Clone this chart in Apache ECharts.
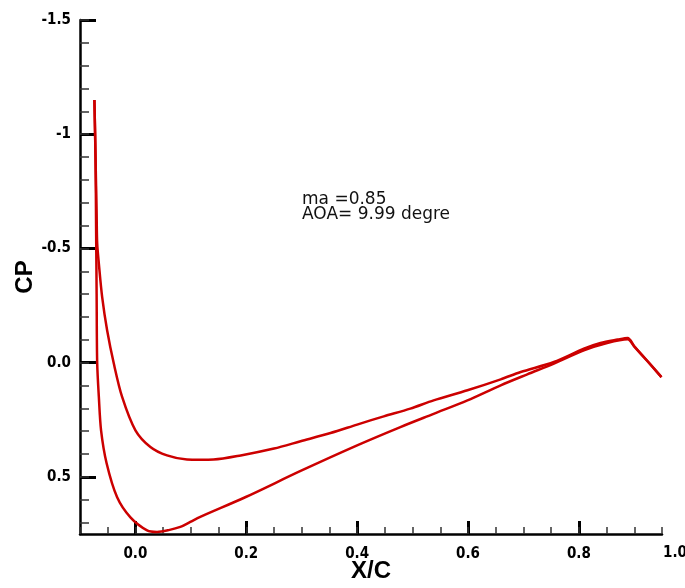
<!DOCTYPE html>
<html>
<head>
<meta charset="utf-8">
<script src="https://cdn.jsdelivr.net/npm/echarts@6.0.0/dist/echarts.min.js"></script>
<style>
  html, body { margin: 0; padding: 0; background: #fff; }
  #chart { width: 685px; height: 588px; }
</style>
</head>
<body>
<div id="chart"></div>
<script>
// branch that dips to the large positive Cp near the leading edge
var lowerX = [-0.074, -0.072, -0.071, -0.070, -0.069, -0.066, -0.062, -0.052, -0.033, -0.009, 0.021, 0.039, 0.060, 0.081, 0.099, 0.117, 0.199, 0.298, 0.400, 0.478, 0.538, 0.599, 0.659, 0.707, 0.755, 0.809, 0.851, 0.888, 0.900, 0.925, 0.949];
var lowerCp = [-1.15, -0.90, -0.60, -0.30, 0.00, 0.15, 0.296, 0.44, 0.589, 0.677, 0.734, 0.741, 0.733, 0.719, 0.697, 0.675, 0.588, 0.474, 0.362, 0.282, 0.224, 0.165, 0.099, 0.051, 0.004, -0.054, -0.086, -0.102, -0.070, -0.003, 0.063];

// inner branch with the flat minimum around x = 0.12
var upperX = [-0.074, -0.072, -0.070, -0.069, -0.066, -0.060, -0.051, -0.039, -0.024, 0.000, 0.027, 0.057, 0.093, 0.117, 0.141, 0.190, 0.250, 0.298, 0.352, 0.400, 0.448, 0.496, 0.538, 0.599, 0.659, 0.695, 0.755, 0.809, 0.839, 0.870, 0.888, 0.900, 0.925, 0.949];
var upperCp = [-1.15, -0.90, -0.65, -0.522, -0.434, -0.287, -0.141, 0.004, 0.150, 0.296, 0.369, 0.406, 0.424, 0.425, 0.424, 0.406, 0.376, 0.344, 0.308, 0.271, 0.235, 0.201, 0.165, 0.121, 0.073, 0.041, -0.003, -0.061, -0.086, -0.101, -0.108, -0.072, -0.004, 0.063];

var xTicks = [0, 0.2, 0.4, 0.6, 0.8];
var xTickLabels = ['0.0', '0.2', '0.4', '0.6', '0.8'];
var yTicks = [-1.5, -1, -0.5, 0, 0.5];
var yTickLabels = ['-1.5', '-1', '-0.5', '0.0', '0.5'];

function zip(xs, ys) {
  return xs.map(function (x, i) { return [x, ys[i]]; });
}

// minor tick positions
var xMinor = [];
for (var i = -2; i <= 19; i++) xMinor.push(+(i * 0.05).toFixed(2));
var yMinor = [];
for (var j = -15; j <= 7; j++) yMinor.push(+(j * 0.1).toFixed(1));

var numFont = "'Liberation Sans Narrow', 'DejaVu Sans Condensed', sans-serif";

var myChart = echarts.init(document.getElementById('chart'));
var option = {
  backgroundColor: '#fff',
  animation: false,
  grid: { left: 80, right: 23, top: 20, bottom: 54, outerBoundsMode: 'none' },
  xAxis: [
    {
      type: 'value',
      min: -0.1,
      max: 0.95,
      name: 'X/C',
      nameLocation: 'middle',
      nameGap: 25,
      nameMoveOverlap: false,
      nameTextStyle: { fontSize: 24, fontWeight: 'bold', color: '#000', fontFamily: 'Liberation Sans' },
      axisLine: { onZero: false, lineStyle: { color: '#000', width: 2.5 } },
      axisTick: { inside: true, length: 13, customValues: xTicks, lineStyle: { color: '#000', width: 3 } },
      axisLabel: {
        customValues: xTicks,
        margin: 13,
        color: '#000',
        fontSize: 15,
        fontWeight: 'bold',
        fontFamily: numFont,
        formatter: function (v) { return xTickLabels[xTicks.indexOf(+v.toFixed(2))]; }
      },
      splitLine: { show: false }
    },
    {
      type: 'value',
      min: -0.1,
      max: 0.95,
      position: 'bottom',
      offset: 0,
      axisLine: { show: false, onZero: false },
      axisTick: { inside: true, length: 7, customValues: xMinor, lineStyle: { color: '#333', width: 1.5 } },
      axisLabel: { show: false },
      splitLine: { show: false }
    }
  ],
  yAxis: [
    {
      type: 'value',
      inverse: true,
      min: -1.5,
      max: 0.75,
      name: 'CP',
      nameLocation: 'middle',
      nameGap: 43,
      nameMoveOverlap: false,
      nameRotate: 90,
      nameTextStyle: { fontSize: 24, fontWeight: 'bold', color: '#000', fontFamily: 'Liberation Sans' },
      axisLine: { onZero: false, lineStyle: { color: '#000', width: 2.5 } },
      axisTick: { inside: true, length: 16, customValues: yTicks, lineStyle: { color: '#000', width: 3 } },
      axisLabel: {
        customValues: yTicks,
        margin: 9,
        color: '#000',
        fontSize: 15,
        fontWeight: 'bold',
        fontFamily: numFont,
        formatter: function (v) { return yTickLabels[yTicks.indexOf(+v.toFixed(1))]; }
      },
      splitLine: { show: false }
    },
    {
      type: 'value',
      inverse: true,
      min: -1.5,
      max: 0.75,
      position: 'left',
      offset: 0,
      axisLine: { show: false, onZero: false },
      axisTick: { inside: true, length: 9, customValues: yMinor, lineStyle: { color: '#333', width: 1.5 } },
      axisLabel: { show: false },
      splitLine: { show: false }
    }
  ],
  graphic: [
    { type: 'text', left: 663, top: 546, style: { text: '1.0', fontSize: 15, fontWeight: 'bold', fontFamily: numFont, fill: '#000' } },
    { type: 'text', left: 302, top: 191, style: { text: 'ma =0.85', fontSize: 17, fontFamily: 'DejaVu Sans', fill: '#111' } },
    { type: 'text', left: 302, top: 206, style: { text: 'AOA= 9.99 degre', fontSize: 17, fontFamily: 'DejaVu Sans', fill: '#111' } }
  ],
  series: [
    {
      type: 'line',
      xAxisIndex: 0,
      yAxisIndex: 0,
      data: zip(lowerX, lowerCp),
      showSymbol: false,
      smooth: 0.3,
      lineStyle: { color: '#cc0000', width: 2.5 }
    },
    {
      type: 'line',
      xAxisIndex: 0,
      yAxisIndex: 0,
      data: zip(upperX, upperCp),
      showSymbol: false,
      smooth: 0.3,
      lineStyle: { color: '#cc0000', width: 2.5 }
    }
  ]
};
myChart.setOption(option);
</script>
</body>
</html>
